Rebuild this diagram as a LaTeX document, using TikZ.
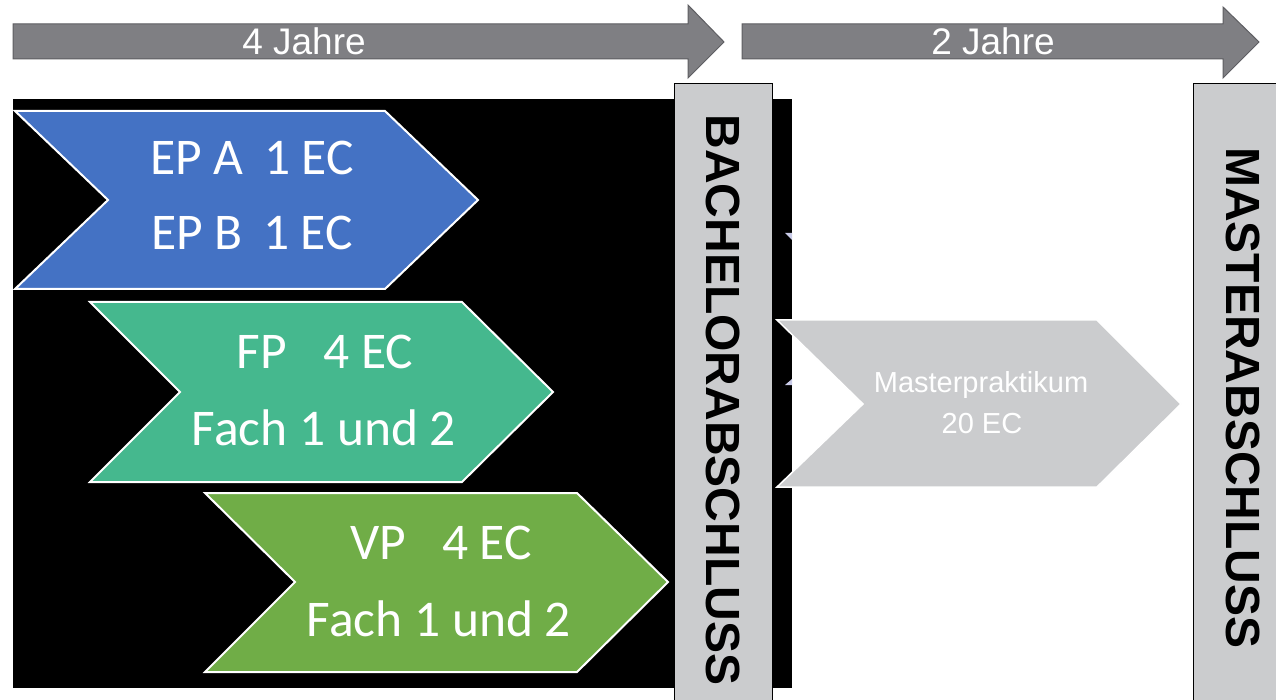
\documentclass[tikz,border=0pt]{standalone}
\usepackage{fontspec}
\setmainfont{Liberation Sans}
\newfontfamily\calib{Carlito}
\definecolor{cblue}{HTML}{4472C4}
\definecolor{cteal}{HTML}{45B88E}
\definecolor{cgreen}{HTML}{70AD47}
\definecolor{cbar}{HTML}{CBCCCE}
\definecolor{carrow}{HTML}{7F7F83}
\definecolor{carrowline}{HTML}{5E5E62}
\definecolor{ctri}{HTML}{C9CBE8}
\tikzset{
  chev/.style={draw=white, line width=2pt, line join=miter},
  bararrow/.style={fill=carrow, draw=carrowline, line width=1pt},
  barbox/.style={fill=cbar, draw=black, line width=1pt},
  ctext/.style={text=white, anchor=base, inner sep=0pt, font=\calib\fontsize{51.5}{60}\selectfont},
  ytext/.style={text=white, anchor=base, inner sep=0pt, font=\fontsize{37}{44}\selectfont},
  mtext/.style={text=white, anchor=base, inner sep=0pt, font=\fontsize{29}{34}\selectfont},
  vtext/.style={text=black, inner sep=0pt, rotate=-90, font=\bfseries\fontsize{48}{56}\selectfont}
}
\begin{document}
\begin{tikzpicture}[x=1pt,y=-1pt]
\useasboundingbox (0,0) rectangle (1276,700);
\fill[white] (0,0) rectangle (1276,700);
% top arrows
\path[bararrow] (13,24) -- (688,24) -- (688,5) -- (724,42) -- (688,78) -- (688,59) -- (13,59) -- cycle;
\path[bararrow] (742,24) -- (1223,24) -- (1223,7) -- (1259,42) -- (1223,78) -- (1223,59) -- (742,59) -- cycle;
\node[ytext] (y4) at (304,55) {4 Jahre};
\node[ytext] (y2) at (993,55) {2 Jahre};
% black panel
\fill[black] (13,99) rectangle (792,688);
% chevrons
\path[chev, fill=cblue] (15,111) -- (385,111) -- (478,200) -- (385,289) -- (15,289) -- (108,200) -- cycle;
\path[chev, fill=cteal] (90,302) -- (462,302) -- (553,392) -- (462,482) -- (90,482) -- (180,392) -- cycle;
\path[chev, fill=cgreen] (205,493) -- (577,493) -- (668,582) -- (577,672) -- (205,672) -- (295,582) -- cycle;
\node[ctext] (epa) at (252,175) {EP A\hspace{0.4em}1 EC};
\node[ctext] (epb) at (252,250) {EP B\hspace{0.4em}1 EC};
\node[ctext] (fp) at (325,368) {FP\hspace{0.7em}4 EC};
\node[ctext] (f1) at (324,445) {Fach 1 und 2};
\node[ctext] (vp) at (441,559) {VP\hspace{0.7em}4 EC};
\node[ctext] (f2) at (439,636) {Fach 1 und 2};
% tiny triangles
\fill[ctri] (785,233) -- (792,233) -- (792,240) -- cycle;
\fill[ctri] (785,385) -- (792,385) -- (792,379) -- cycle;
% Master chevron
\path[chev, line width=1.5pt, fill=cbar] (777,320) -- (1097,320) -- (1181,404) -- (1097,487) -- (777,487) -- (863,404) -- cycle;
\node[mtext] (mp) at (981,392) {Masterpraktikum};
\node[mtext] (mp2) at (982,433) {20 EC};
% bars
\path[barbox] (674,84) rectangle (772,702);
\path[barbox] (1193,84) rectangle (1290,702);
\node[vtext] (ba) at (723,400) {BACHELORABSCHLUSS};
\node[vtext] (ma) at (1243,398) {MASTERABSCHLUSS};
\end{tikzpicture}
\end{document}
